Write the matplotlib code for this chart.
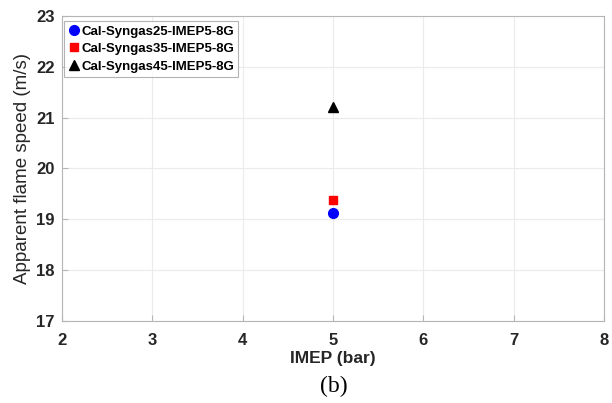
import matplotlib
matplotlib.use("Agg")
import matplotlib.pyplot as plt

plt.rcParams['font.family'] = ['Liberation Sans', 'DejaVu Sans']

# data
imep = [5, 5, 5]
flame_speed = [19.12, 19.38, 21.22]
labels = ['Cal-Syngas25-IMEP5-8G', 'Cal-Syngas35-IMEP5-8G', 'Cal-Syngas45-IMEP5-8G']
markers = ['o', 's', '^']
colors = ['#0000ff', '#ff0000', '#000000']
x_ticks = [2, 3, 4, 5, 6, 7, 8]
y_ticks = [17, 18, 19, 20, 21, 22, 23]

fig = plt.figure(figsize=(6.12, 4.03), dpi=100)
ax = fig.add_axes([0.101, 0.204, 0.886, 0.756])

sizes = [7, 6, 7]
for x, y, lab, m, c, s in zip(imep, flame_speed, labels, markers, colors, sizes):
    ax.plot([x], [y], linestyle='none', marker=m, color=c, markersize=s, label=lab)

ax.set_xlim(2, 8)
ax.set_ylim(17, 23)
ax.set_xticks(x_ticks)
ax.set_yticks(y_ticks)
ax.grid(True, color='#ebebeb', linewidth=0.8)
ax.set_axisbelow(True)
for sp in ax.spines.values():
    sp.set_color('#b5b5b5')
ax.tick_params(direction='in', length=4, color='#b5b5b5', labelcolor='#262626')
ax.tick_params(axis='x', pad=9)
ax.tick_params(axis='y', pad=5)
for t in ax.get_xticklabels() + ax.get_yticklabels():
    t.set_fontweight('bold')
    t.set_fontsize(12)

ax.set_xlabel('IMEP (bar)', fontsize=12.5, fontweight='bold', color='#262626', labelpad=2)
ax.set_ylabel('Apparent flame speed (m/s)', fontsize=13.5, color='#262626', labelpad=4)

leg = ax.legend(loc='upper left', prop={'weight': 'bold', 'size': 9.5}, frameon=True,
                fancybox=False, borderpad=0.3, handletextpad=0.05, handlelength=1.0,
                labelspacing=0.4, borderaxespad=0.4, bbox_to_anchor=(-0.006, 1.0))
leg.get_frame().set_edgecolor('#a0a0a0')
leg.get_frame().set_linewidth(0.8)

fig.text(0.545, 0.015, '(b)', ha='center', va='bottom', fontsize=17,
         family=['Liberation Serif', 'DejaVu Serif'])

fig.savefig('out.png', dpi=100)
